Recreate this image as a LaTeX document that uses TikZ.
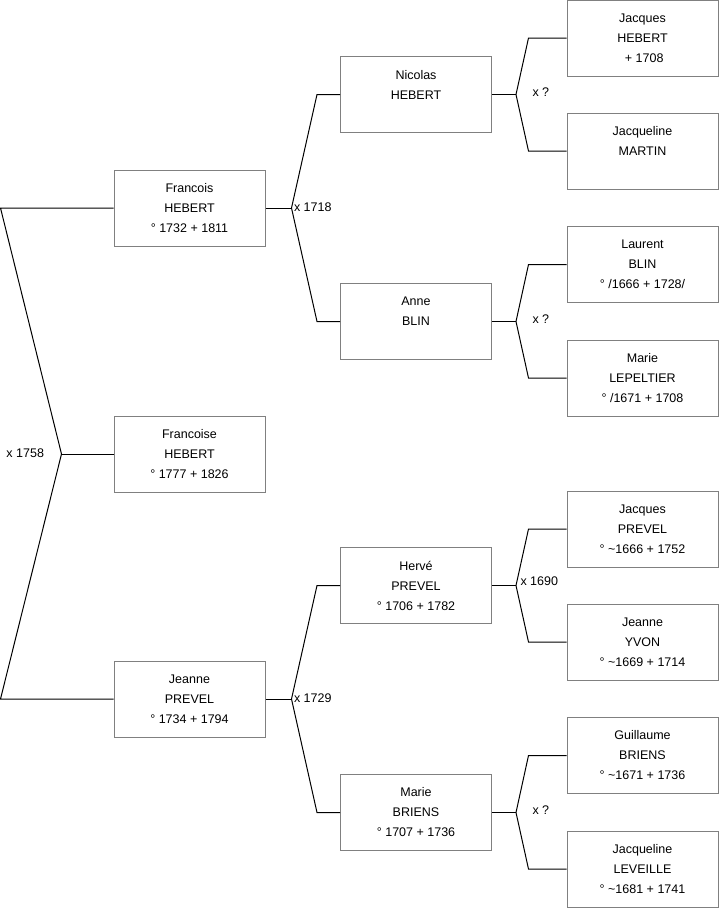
\documentclass[tikz,border=0pt]{standalone}
\usepackage{fontspec}
\setmainfont{Liberation Sans}
\begin{document}
\begin{tikzpicture}[x=1pt, y=-1pt, line width=1pt,
    person/.style={draw=gray, fill=white, minimum width=151pt, minimum height=76pt,
        align=center, inner sep=0pt, font=\fontsize{12.5}{20}\selectfont},
    wed/.style={inner sep=0pt, font=\fontsize{12.5}{15}\selectfont}]
    \useasboundingbox (0,0) rectangle (719,908);

    % Children
    \node[person] (francois) at (189.5,208) {Francois\\HEBERT\\° 1732 + 1811};
    \node[person] (francoise) at (189.5,454) {Francoise\\HEBERT\\° 1777 + 1826};
    \node[person] (jeanne) at (189.5,699) {Jeanne\\PREVEL\\° 1734 + 1794};

    % Parents
    \node[person] (nicolas) at (416,94.5) {Nicolas\\HEBERT\\{}};
    \node[person] (anne) at (416,321.5) {Anne\\BLIN\\{}};
    \node[person] (herve) at (416,585.5) {Hervé\\PREVEL\\° 1706 + 1782};
    \node[person] (marie) at (416,812.5) {Marie\\BRIENS\\° 1707 + 1736};

    % Grandparents
    \node[person] (jacquesH) at (642.5,38) {Jacques\\HEBERT\\\ + 1708};
    \node[person] (jacquelineM) at (642.5,151) {Jacqueline\\MARTIN\\{}};
    \node[person] (laurent) at (642.5,264.5) {Laurent\\BLIN\\° /1666 + 1728/};
    \node[person] (marieL) at (642.5,378) {Marie\\LEPELTIER\\° /1671 + 1708};
    \node[person] (jacquesP) at (642.5,529) {Jacques\\PREVEL\\° \textasciitilde1666 + 1752};
    \node[person] (jeanneY) at (642.5,642) {Jeanne\\YVON\\° \textasciitilde1669 + 1714};
    \node[person] (guillaume) at (642.5,755.5) {Guillaume\\BRIENS\\° \textasciitilde1671 + 1736};
    \node[person] (jacquelineL) at (642.5,869) {Jacqueline\\LEVEILLE\\° \textasciitilde1681 + 1741};

    % Forks
    \draw (francoise.west) -- ++(-52,0) coordinate (w0);
    \draw (francois.west) -- ++(-113,0) -- (w0);
    \draw (jeanne.west) -- ++(-113,0) -- (w0);

    \draw (francois.east) -- ++(26,0) coordinate (w1);
    \draw (nicolas.west) -- ++(-23,0) -- (w1);
    \draw (anne.west) -- ++(-23,0) -- (w1);

    \draw (jeanne.east) -- ++(26,0) coordinate (w2);
    \draw (herve.west) -- ++(-23,0) -- (w2);
    \draw (marie.west) -- ++(-23,0) -- (w2);

    \draw (nicolas.east) -- ++(24,0) coordinate (w3);
    \draw (jacquesH.west) -- ++(-38,0) -- (w3);
    \draw (jacquelineM.west) -- ++(-38,0) -- (w3);

    \draw (anne.east) -- ++(24,0) coordinate (w4);
    \draw (laurent.west) -- ++(-38,0) -- (w4);
    \draw (marieL.west) -- ++(-38,0) -- (w4);

    \draw (herve.east) -- ++(24,0) coordinate (w5);
    \draw (jacquesP.west) -- ++(-38,0) -- (w5);
    \draw (jeanneY.west) -- ++(-38,0) -- (w5);

    \draw (marie.east) -- ++(24,0) coordinate (w6);
    \draw (guillaume.west) -- ++(-38,0) -- (w6);
    \draw (jacquelineL.west) -- ++(-38,0) -- (w6);

    % Marriages
    \node[wed, anchor=east, xshift=-17pt, yshift=1pt] (m0) at (w0) {x 1758};
    \node[wed, anchor=west, xshift=2pt, yshift=1pt] (m1) at (w1) {x 1718};
    \node[wed, anchor=west, xshift=2pt, yshift=1pt] (m2) at (w2) {x 1729};
    \node[wed, anchor=west, xshift=16pt, yshift=2pt] (m3) at (w3) {x ?};
    \node[wed, anchor=west, xshift=16pt, yshift=2pt] (m4) at (w4) {x ?};
    \node[wed, anchor=west, xshift=4pt, yshift=4pt] (m5) at (w5) {x 1690};
    \node[wed, anchor=west, xshift=16pt, yshift=2pt] (m6) at (w6) {x ?};
\end{tikzpicture}
\end{document}
